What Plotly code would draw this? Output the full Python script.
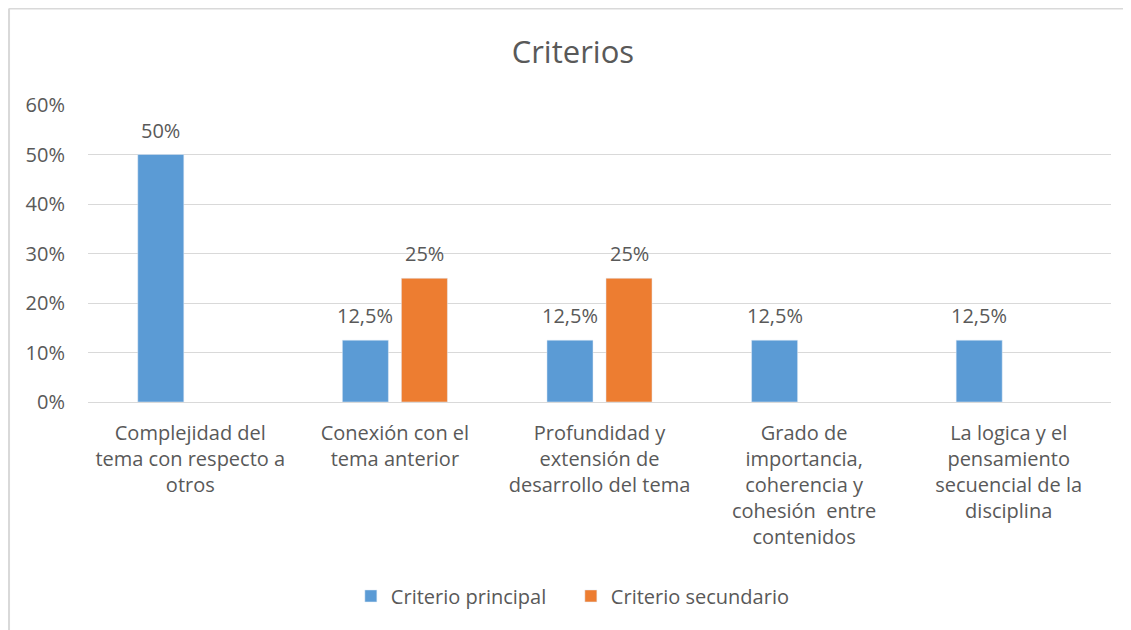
import plotly.graph_objects as go

categorias = [
    "Complejidad del<br>tema con respecto a<br>otros",
    "Conexión con el<br>tema anterior",
    "Profundidad y<br>extensión de<br>desarrollo del tema",
    "Grado de<br>importancia,<br>coherencia y<br>cohesión  entre<br>contenidos",
    "La logica y el<br>pensamiento<br>secuencial de la<br>disciplina",
]
principal = [0.50, 0.125, 0.125, 0.125, 0.125]
principal_txt = ["50%", "12,5%", "12,5%", "12,5%", "12,5%"]
secundario = [None, 0.25, 0.25, None, None]
secundario_txt = ["", "25%", "25%", "", ""]
y_ticks = [0, 0.1, 0.2, 0.3, 0.4, 0.5, 0.6]
y_labels = ["0%", "10%", "20%", "30%", "40%", "50%", "60%"]

gris = "#595959"
fuente = "Open Sans"

fig = go.Figure()

fig.add_trace(go.Bar(x=categorias, y=principal, name="Criterio principal",
                     marker_color="#5B9BD5"))
fig.add_trace(go.Bar(x=categorias, y=secundario, name="Criterio secundario",
                     marker_color="#ED7D31"))

# etiquetas de datos, algo separadas de la barra como en Excel
for serie, textos, dx in [(principal, principal_txt, -29.5),
                          (secundario, secundario_txt, 29.5)]:
    for cat, val, txt in zip(categorias, serie, textos):
        if val is None:
            continue
        fig.add_annotation(x=cat, y=val, text=txt, showarrow=False,
                           xshift=dx, yshift=9, yanchor="bottom",
                           font=dict(size=20, color=gris))

# borde del gráfico (solo arriba e izquierda visibles en la captura)
fig.add_shape(type="line", xref="paper", yref="paper",
              x0=-0.0772, x1=1.05, y0=1.325, y1=1.325,
              line=dict(color="#D9D9D9", width=2))
fig.add_shape(type="line", xref="paper", yref="paper",
              x0=-0.0772, x1=-0.0772, y0=1.325, y1=-0.8,
              line=dict(color="#D9D9D9", width=2))

fig.update_layout(
    width=1123, height=622,
    margin=dict(l=80, r=20, t=97, b=228),
    paper_bgcolor="white", plot_bgcolor="white",
    font=dict(family=fuente, size=20, color=gris),
    title=dict(text="Criterios", x=0.503, xanchor="center",
               y=0.929, yanchor="middle", font=dict(size=31, color=gris)),
    barmode="group", bargap=0.423, bargroupgap=0.22,
    showlegend=True,
    legend=dict(orientation="h", x=0.472, xanchor="center",
                y=-0.653, yanchor="middle", font=dict(size=20, color=gris),
                itemwidth=30, entrywidth=175, traceorder="normal"),
)

fig.update_xaxes(showgrid=False, showline=True, linecolor="#D9D9D9", linewidth=1,
                 ticks="", tickfont=dict(size=20, color=gris),
                 ticklabelstandoff=13, tickangle=0)
fig.update_yaxes(range=[0, 0.6], tickvals=y_ticks, ticktext=y_labels,
                 showgrid=True, gridcolor="#D9D9D9", gridwidth=1,
                 zeroline=False, showline=False,
                 tickfont=dict(size=20, color=gris), ticklabelstandoff=22)

fig.write_html("out.html")
